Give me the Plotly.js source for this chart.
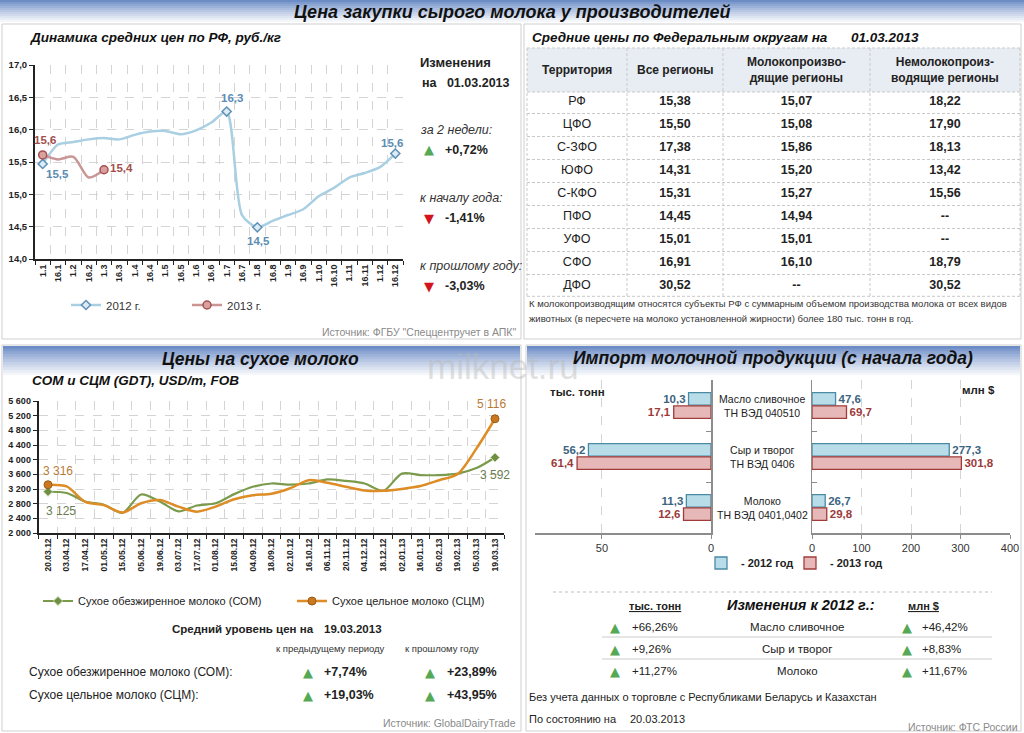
<!DOCTYPE html>
<html><head><meta charset="utf-8">
<script src="https://cdn.plot.ly/plotly-3.0.1.min.js"></script>
<style>html,body{margin:0;padding:0;background:#fff}#chart{width:1024px;height:733px}</style>
</head><body><div id="chart"></div>
<script>
// ================= DATA =================
// Top-left: average raw milk price, RF, rub/kg
const topDates = ['1.1','16.1','1.2','16.2','1.3','16.3','1.4','16.4','1.5','16.5','1.6','16.6','1.7','16.7','1.8','16.8','1.9','16.9','1.10','16.10','1.11','16.11','1.12','16.12'];
const rf2012 = [15.47,15.77,15.81,15.85,15.87,15.85,15.92,15.97,15.98,15.93,15.99,16.11,16.28,14.68,14.49,14.59,14.68,14.77,14.97,15.10,15.26,15.33,15.42,15.63];
const rf2013 = [15.61,15.54,15.58,15.26,15.38];
const rf2012Marked = [0,12,14,23];
const rf2013Marked = [0,4];
const changeLabels = ['за 2 недели:','к началу года:','к прошлому году:'];
const changeValues = [0.72,-1.41,-3.03];

// Top-right: table
const tableHeaders = ['Территория','Все регионы','Молокопроизво-<br>дящие регионы','Немолокопроиз-<br>водящие регионы'];
const regions = ['РФ','ЦФО','С-ЗФО','ЮФО','С-КФО','ПФО','УФО','СФО','ДФО'];
const allRegions = [15.38,15.50,17.38,14.31,15.31,14.45,15.01,16.91,30.52];
const milkRegions = [15.07,15.08,15.86,15.20,15.27,14.94,15.01,16.10,null];
const nonMilkRegions = [18.22,17.90,18.13,13.42,15.56,null,null,18.79,30.52];

// Bottom-left: GDT powder prices, USD/t
const gdtDates = ['20.03.12','03.04.12','17.04.12','01.05.12','15.05.12','05.06.12','19.06.12','03.07.12','17.07.12','01.08.12','15.08.12','04.09.12','18.09.12','02.10.12','16.10.12','06.11.12','20.11.12','04.12.12','18.12.12','02.01.13','16.01.13','05.02.13','19.02.13','05.03.13','19.03.13'];
const som = [3125,3090,2860,2770,2550,3050,2860,2590,2750,2810,3060,3260,3350,3320,3350,3460,3420,3350,3150,3620,3580,3580,3620,3770,4060];
const scm = [3316,3270,2850,2760,2560,2810,2900,2720,2580,2720,2920,3030,3070,3220,3440,3370,3260,3160,3150,3200,3280,3440,3610,4300,5116];
const gdtMarked = [0,24];
const somLabelValues = [3125,3592];
const gdtSeries = ['Сухое обезжиренное молоко (СОМ):','Сухое цельное молоко (СЦМ):'];
const gdtChangePrev = [7.74,19.03];
const gdtChangeYear = [23.89,43.95];

// Bottom-right: imports
const importCats = ['Масло сливочное','Сыр и творог','Молоко'];
const importCodes = ['ТН ВЭД 040510','ТН ВЭД 0406','ТН ВЭД 0401,0402'];
const tons2012 = [10.3,56.2,11.3];
const tons2013 = [17.1,61.4,12.6];
const usd2012 = [47.6,277.3,26.7];
const usd2013 = [69.7,301.8,29.8];
const changeTons = [66.26,9.26,11.27];
const changeUsd = [46.42,8.83,11.67];

// ================= HELPERS =================
const W=1024,H=733;
const px=x=>x/W, py=y=>1-y/H;
const FONT='Liberation Sans, Arial, sans-serif';
const TRI='DejaVu Sans, sans-serif';
const f1=v=>v.toFixed(1).replace('.',',');
const f2=v=>v==null?'--':v.toFixed(2).replace('.',',');
const pct=v=>(v>0?'+':'')+v.toFixed(2).replace('.',',')+'%';
const thou=v=>String(v).replace(/\B(?=(\d{3})+(?!\d))/g,' ');
const pick=(arr,idx)=>arr.map((v,i)=>idx.includes(i)?v:null);
const ann=[], shapes=[];
function T(text,x,y,o){o=o||{};ann.push({text:text,x:px(x),y:py(y),xref:'paper',yref:'paper',showarrow:false,
  xanchor:o.xa||'left',yanchor:'middle',font:{family:o.family||FONT,size:o.size||11,color:o.color||'#222'}});}
function tri(v,x,y){T(v>=0?'▲':'▼',x,y,{xa:'center',size:13,family:TRI,color:v>=0?'#55a955':'#d3141c'});}
function D(text,xr,yr,x,y,dx,dy,color,size){ann.push({text:text,xref:xr,yref:yr,x:x,y:y,xshift:dx,yshift:dy,showarrow:false,
  xanchor:'center',yanchor:'middle',font:{family:FONT,size:size,color:color}});}
function gradient(x0,x1,y0,y1,n){
  for(let i=0;i<n;i++){const t=i/(n-1);
    const c=[108,140,197].map(v=>Math.round(v+(255-v)*Math.pow(t,0.85)));
    shapes.push({type:'rect',xref:'paper',yref:'paper',x0:px(x0),x1:px(x1),
      y0:py(y0+(y1-y0)*(i+1)/n+0.6),y1:py(y0+(y1-y0)*i/n),fillcolor:'rgb('+c.join(',')+')',line:{width:0},layer:'below'});}
}
function box(x0,y0,x1,y1){shapes.push({type:'rect',xref:'paper',yref:'paper',x0:px(x0),x1:px(x1),y0:py(y1),y1:py(y0),line:{color:'#cfcfcf',width:1},fillcolor:'rgba(0,0,0,0)',layer:'below'});}
function hline(x0,x1,y,color,dash){shapes.push({type:'line',xref:'paper',yref:'paper',x0:px(x0),x1:px(x1),y0:py(y),y1:py(y),line:{color:color,width:1,dash:dash||'solid'},layer:'below'});}
function vline(x,y0,y1,color,dash){shapes.push({type:'line',xref:'paper',yref:'paper',x0:px(x),x1:px(x),y0:py(y0),y1:py(y1),line:{color:color,width:1,dash:dash||'solid'},layer:'below'});}

// ================= DECORATION =================
gradient(0,1024,0,24,12);
box(2,24,521,339); box(524,24,1021,339);
box(2,345,521,731); box(526,345,1021,731);
gradient(3,520,346,378,12); gradient(527,1020,346,378,12);

// table frame (header band + dashed column separators)
const TX0=527, TX1=1020, TY0=48, TYH=92, TY1=296.3;
const colW=[100,96,147,150];
const TD='3px,2px', TC='#c9c9c9';
shapes.push({type:'rect',xref:'paper',yref:'paper',x0:px(TX0),x1:px(TX1),y0:py(TYH),y1:py(TY0),fillcolor:'#e8ecf3',line:{width:0},layer:'below'});
hline(TX0,TX1,TY0,TC,TD); hline(TX0,TX1,TYH,TC,TD); hline(TX0,TX1,TY1,TC,TD);
let cx=TX0; vline(cx,TY0,TY1,TC,TD);
const colCenters=[];
colW.forEach(w=>{colCenters.push(cx-TX0+w/2);cx+=w;vline(cx,TY0,TY1,TC,TD);});

// ================= TEXTS =================
T('milknet.ru',503,366,{xa:'center',size:35,color:'rgba(185,185,185,0.45)'});
T('<b><i>Цена закупки сырого молока у производителей</i></b>',512,12,{xa:'center',size:18,color:'#111'});
T('<b><i>Динамика средних цен по РФ, руб./кг</i></b>',28,38,{size:13.5,color:'#111'});
T('<b>Изменения</b>',418,62,{size:13});
T('<b>на\u00a0\u00a0 01.03.2013</b>',420,83,{size:12.5});
const chY=[130,198,266];
changeLabels.forEach((l,i)=>{T('<i>'+l+'</i>',418,chY[i],{size:12.5,color:'#333'});
  tri(changeValues[i],429,chY[i]+20); T('<b>'+pct(changeValues[i])+'</b>',443,chY[i]+20,{size:12.5});});
T('Источник: ФГБУ "Спеццентручет в АПК"',518,332,{xa:'right',size:10.5,color:'#8a8a8a'});

T('<b><i>Средние цены по Федеральным округам на</i></b>',530,37,{size:13.5,color:'#111'});
T('<b><i>01.03.2013</i></b>',849,37,{size:13.5,color:'#111'});
tableHeaders.forEach((h,i)=>{T('<b>'+h+'</b>',TX0+colCenters[i],70,{xa:'center',size:12,color:'#222'});});
T('К молокопроизводящим относятся субъекты РФ с суммарным объемом производства молока от всех видов',527,303,{size:9.5,color:'#333'});
T('животных (в пересчете на молоко установленной жирности) более 180 тыс. тонн в год.',527,319,{size:9.5,color:'#333'});

T('<b><i>Цены на сухое молоко</i></b>',260,359,{xa:'center',size:17.5,color:'#111'});
T('<b><i>СОМ и СЦМ (GDT), USD/m, FOB</i></b>',30,380,{size:13.5,color:'#111'});
T('<b>Средний уровень цен на</b>',170,629,{size:11.5});
T('<b>19.03.2013</b>',322,629,{size:11.5});
T('к предыдущему периоду',330,648,{xa:'center',size:9.5,color:'#333'});
T('к прошлому году',442,648,{xa:'center',size:9.5,color:'#333'});
const gY=[672,695];
gdtSeries.forEach((s,i)=>{T(s,27,gY[i],{size:12,color:'#222'});
  tri(gdtChangePrev[i],308,gY[i]); T('<b>'+pct(gdtChangePrev[i])+'</b>',322,gY[i],{size:12.5});
  tri(gdtChangeYear[i],430,gY[i]); T('<b>'+pct(gdtChangeYear[i])+'</b>',445,gY[i],{size:12.5});});
T('Источник: GlobalDairyTrade',518,723,{xa:'right',size:10.5,color:'#8a8a8a'});

T('<b><i>Импорт молочной продукции (с начала года)</i></b>',773,358,{xa:'center',size:17.5,color:'#111'});
T('<b>тыс. тонн</b>',548,392,{size:11.5});
T('<b>млн $</b>',997,390,{xa:'right',size:11.5});
importCats.forEach((c,i)=>{ann.push({text:c+'<br>'+importCodes[i],x:px(762),xref:'paper',y:c,yref:'y3',showarrow:false,
  xanchor:'center',yanchor:'middle',font:{family:FONT,size:10.5,color:'#222'}});});
hline(553,992,592,'#bdbdbd','dot');
T('<b><u>тыс. тонн</u></b>',655,606,{xa:'center',size:11});
T('<b><i>Изменения к 2012 г.:</i></b>',801,605,{xa:'center',size:14.5,color:'#111'});
T('<b><u>млн $</u></b>',923,606,{xa:'center',size:11});
const rY=[627,649,671];
importCats.forEach((c,i)=>{tri(changeTons[i],615,rY[i]);T(pct(changeTons[i]),630,rY[i],{size:11.5});
  T(c,797,rY[i],{xa:'center',size:11.5});
  tri(changeUsd[i],907,rY[i]);T(pct(changeUsd[i]),920,rY[i],{size:11.5});});
hline(602,992,637,'#cccccc'); hline(602,992,659,'#cccccc');
T('Без учета данных о торговле с Республиками Беларусь и Казахстан',527,697,{size:11});
T('По состоянию на',527,719,{size:11});
T('20.03.2013',628,719,{size:11});
T('Источник: ФТС России',1020,727,{xa:'right',size:10.5,color:'#8a8a8a'});

// point labels (anchored to data through the axes; category index used as x)
const off12={0:[15,-10],12:[5,14],14:[1,-14],23:[-3,11]};
rf2012Marked.forEach(i=>D('<b>'+f1(rf2012[i])+'</b>','x','y',i,rf2012[i],off12[i][0],off12[i][1],'#5b8db3',11.5));
const off13={0:[2,15],4:[17,2]};
rf2013Marked.forEach(i=>D('<b>'+f1(rf2013[i])+'</b>','x','y',i,rf2013[i],off13[i][0],off13[i][1],'#a3504d',11.5));
const offScm={0:[10,14],24:[-3,15]}, offSom={0:[13,-19],24:[0,-18]};
gdtMarked.forEach((i,k)=>{
  D(thou(scm[i]),'x2','y2',i,scm[i],offScm[i][0],offScm[i][1],'#b97a35',12);
  D(thou(somLabelValues[k]),'x2','y2',i,som[i],offSom[i][0],offSom[i][1],'#6a7d50',12);
});

// ================= TRACES =================
const C12='#a9cfe2',C13='#c99695',CSOM='#7a9a4c',CSCM='#dd8c26';
const traces=[];
// top-left
traces.push({type:'scatter',x:topDates,y:rf2012,mode:'lines',line:{color:C12,width:2.5,shape:'spline',smoothing:0.7},showlegend:false,hoverinfo:'skip'});
traces.push({type:'scatter',x:topDates.slice(0,rf2013.length),y:rf2013,mode:'lines',line:{color:C13,width:2.5,shape:'spline',smoothing:0.8},showlegend:false,hoverinfo:'skip'});
traces.push({type:'scatter',x:topDates,y:pick(rf2012,rf2012Marked),mode:'lines+markers',name:'2012 г.',legend:'legend',
  line:{color:C12,width:2.5},marker:{symbol:'diamond',size:7,color:'#dcebf4',line:{color:'#5f91b6',width:1.5}},cliponaxis:false,hoverinfo:'skip'});
traces.push({type:'scatter',x:topDates.slice(0,rf2013.length),y:pick(rf2013,rf2013Marked),mode:'lines+markers',name:'2013 г.',legend:'legend',
  line:{color:C13,width:2.5},marker:{symbol:'circle',size:8,color:'#d9a09f',line:{color:'#a4514f',width:1.5}},cliponaxis:false,hoverinfo:'skip'});

// top-right table body, cells placed on the rows of a category axis
const tableCols=[regions.slice(),allRegions.map(f2),milkRegions.map(f2),nonMilkRegions.map(f2)];
tableCols.forEach((col,j)=>{
  traces.push({type:'scatter',mode:'text',xaxis:'x5',yaxis:'y5',x:regions.map(()=>colCenters[j]),y:regions,
    text:col.map(v=>j===0?v:'<b>'+v+'</b>'),textposition:'middle center',
    textfont:{family:FONT,size:12.5,color:'#222'},showlegend:false,cliponaxis:false,hoverinfo:'skip'});
});

// bottom-left
traces.push({type:'scatter',x:gdtDates,y:som,mode:'lines',xaxis:'x2',yaxis:'y2',line:{color:CSOM,width:2.2,shape:'spline',smoothing:0.8},showlegend:false,hoverinfo:'skip'});
traces.push({type:'scatter',x:gdtDates,y:scm,mode:'lines',xaxis:'x2',yaxis:'y2',line:{color:CSCM,width:2.5,shape:'spline',smoothing:0.8},showlegend:false,hoverinfo:'skip'});
traces.push({type:'scatter',x:gdtDates,y:pick(som,gdtMarked),mode:'lines+markers',xaxis:'x2',yaxis:'y2',name:'Сухое обезжиренное молоко (СОМ)',legend:'legend2',
  line:{color:CSOM,width:2.2},marker:{symbol:'diamond',size:7,color:'#6f8f42',line:{color:'#c9d8b0',width:1}},cliponaxis:false,hoverinfo:'skip'});
traces.push({type:'scatter',x:gdtDates,y:pick(scm,gdtMarked),mode:'lines+markers',xaxis:'x2',yaxis:'y2',name:'Сухое цельное молоко (СЦМ)',legend:'legend2',
  line:{color:CSCM,width:2.5},marker:{symbol:'circle',size:8,color:'#c9781f',line:{color:'#9c5a14',width:1}},cliponaxis:false,hoverinfo:'skip'});

// bottom-right bars
const B12={color:'#b8dce8',line:{color:'#4a8aa5',width:1.3}}, B13={color:'#e6b8b7',line:{color:'#a23c3a',width:1.3}};
traces.push({type:'bar',orientation:'h',x:tons2012,y:importCats,xaxis:'x3',yaxis:'y3',marker:B12,name:'- 2012 год',legend:'legend3',legendwidth:44,
  text:tons2012.map(f1),textposition:'outside',textfont:{family:FONT,size:11.5,color:'#3b6480',weight:'bold'},cliponaxis:false,hoverinfo:'skip'});
traces.push({type:'bar',orientation:'h',x:tons2013,y:importCats,xaxis:'x3',yaxis:'y3',marker:B13,name:'- 2013 год',legend:'legend3',legendwidth:80,
  text:tons2013.map(f1),textposition:'outside',textfont:{family:FONT,size:11.5,color:'#9a3b3a',weight:'bold'},cliponaxis:false,hoverinfo:'skip'});
traces.push({type:'bar',orientation:'h',x:usd2012,y:importCats,xaxis:'x4',yaxis:'y4',marker:B12,showlegend:false,
  text:usd2012.map(f1),textposition:'outside',textfont:{family:FONT,size:11.5,color:'#3b6480',weight:'bold'},cliponaxis:false,hoverinfo:'skip'});
traces.push({type:'bar',orientation:'h',x:usd2013,y:importCats,xaxis:'x4',yaxis:'y4',marker:B13,showlegend:false,
  text:usd2013.map(f1),textposition:'outside',textfont:{family:FONT,size:11.5,color:'#9a3b3a',weight:'bold'},cliponaxis:false,hoverinfo:'skip'});

// ================= LAYOUT =================
const gridStyle={showgrid:true,gridcolor:'#d4d4d4',griddash:'dash',gridwidth:1};
const layout={
  width:W,height:H,margin:{l:0,r:0,t:0,b:0},paper_bgcolor:'#ffffff',plot_bgcolor:'rgba(0,0,0,0)',
  separators:', ',font:{family:FONT,size:11,color:'#222'},
  barmode:'group',bargap:0.48,bargroupgap:0.05,
  xaxis:Object.assign({domain:[px(35),px(403)],anchor:'y',type:'category',range:[-0.5,23.5],tickson:'boundaries',ticks:'outside',ticklen:4,tickcolor:'#222',
    showline:true,linecolor:'#222',linewidth:2,tickangle:-90,tickfont:{family:FONT,size:9,color:'#222',weight:'bold'},zeroline:false},gridStyle),
  yaxis:Object.assign({domain:[py(259),py(65)],anchor:'x',range:[14,17],dtick:0.5,tick0:14,tickformat:'.1f',ticks:'outside',ticklen:4,tickcolor:'#222',
    showline:true,linecolor:'#222',linewidth:2,zeroline:false,tickfont:{family:FONT,size:9.5,color:'#222',weight:'bold'}},gridStyle),
  xaxis2:Object.assign({domain:[px(38.7),px(504.3)],anchor:'y2',type:'category',range:[-0.5,24.5],tickson:'boundaries',ticks:'outside',ticklen:4,tickcolor:'#222',
    showline:true,linecolor:'#222',linewidth:2,tickangle:-90,tickfont:{family:FONT,size:8.5,color:'#222',weight:'bold'},zeroline:false},gridStyle),
  yaxis2:Object.assign({domain:[py(533),py(401)],anchor:'x2',range:[2000,5600],dtick:400,tick0:2000,tickformat:',.0f',ticks:'outside',ticklen:4,tickcolor:'#222',
    showline:true,linecolor:'#222',linewidth:2,zeroline:false,tickfont:{family:FONT,size:9,color:'#222',weight:'bold'}},gridStyle),
  xaxis3:Object.assign({domain:[px(535),px(711)],anchor:'y3',range:[80.7,0],dtick:50,tick0:0,ticks:'outside',ticklen:4,tickcolor:'#8c8c8c',
    showline:true,linecolor:'#8c8c8c',linewidth:1.5,zeroline:false,tickfont:{family:FONT,size:11,color:'#333'}},gridStyle),
  yaxis3:{domain:[py(533),py(380)],anchor:'x3',type:'category',autorange:'reversed',side:'right',showline:true,linecolor:'#8c8c8c',linewidth:1.5,
    showticklabels:false,ticks:'inside',ticklen:5,tickcolor:'#8c8c8c',tickson:'boundaries',showgrid:false,zeroline:false},
  xaxis4:Object.assign({domain:[px(812),px(1010)],anchor:'y4',range:[0,400],dtick:100,tick0:0,ticks:'outside',ticklen:4,tickcolor:'#8c8c8c',
    showline:true,linecolor:'#8c8c8c',linewidth:1.5,zeroline:false,tickfont:{family:FONT,size:11,color:'#333'}},gridStyle),
  yaxis4:{domain:[py(533),py(380)],anchor:'x4',type:'category',autorange:'reversed',side:'left',showline:true,linecolor:'#8c8c8c',linewidth:1.5,
    showticklabels:false,ticks:'inside',ticklen:5,tickcolor:'#8c8c8c',tickson:'boundaries',showgrid:false,zeroline:false},
  xaxis5:{domain:[px(TX0),px(TX1)],anchor:'y5',range:[0,TX1-TX0],visible:false,showgrid:false,zeroline:false},
  yaxis5:{domain:[py(TY1),py(TYH)],anchor:'x5',type:'category',autorange:'reversed',tickson:'boundaries',showticklabels:false,ticks:'',
    showline:false,zeroline:false,showgrid:true,gridcolor:TC,griddash:TD,gridwidth:1},
  legend:{x:px(66),y:py(305),xanchor:'left',yanchor:'middle',orientation:'h',entrywidth:76,entrywidthmode:'pixels',bgcolor:'rgba(0,0,0,0)',font:{family:FONT,size:11.5,color:'#333'}},
  legend2:{x:px(38),y:py(601),xanchor:'left',yanchor:'middle',orientation:'h',entrywidth:209,entrywidthmode:'pixels',bgcolor:'rgba(0,0,0,0)',font:{family:FONT,size:11,color:'#222'}},
  legend3:{x:px(701),y:py(563),xanchor:'left',yanchor:'middle',orientation:'h',bgcolor:'rgba(0,0,0,0)',font:{family:FONT,size:11,color:'#222',weight:'bold'}},
  shapes:shapes,annotations:ann
};
Plotly.newPlot('chart',traces,layout,{staticPlot:true,displayModeBar:false});
</script></body></html>
